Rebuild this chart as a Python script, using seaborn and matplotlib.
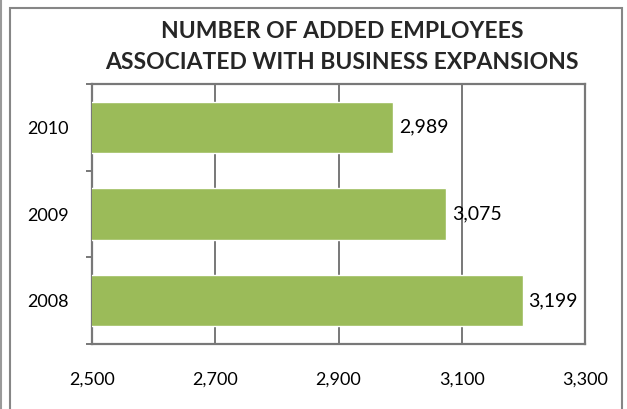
import matplotlib
matplotlib.use("Agg")
import matplotlib.pyplot as plt
import matplotlib.ticker as mticker
from matplotlib.lines import Line2D
from matplotlib.patches import Rectangle
import seaborn as sns
import pandas as pd

# data
years = ["2010", "2009", "2008"]
employees = [2989, 3075, 3199]
x_ticks = [2500, 2700, 2900, 3100, 3300]
title = "NUMBER OF ADDED EMPLOYEES\nASSOCIATED WITH BUSINESS EXPANSIONS"

df = pd.DataFrame({"year": years, "employees": employees})

sns.set_theme(style="white")
plt.rcParams["font.family"] = ["Lato", "DejaVu Sans"]

fig = plt.figure(figsize=(6.27, 4.09), dpi=100)
ax = fig.add_axes([92 / 627, 65 / 409, 493 / 627, 260 / 409])

sns.barplot(data=df, x="employees", y="year", order=years, orient="h",
            color="#9BBB59", saturation=1, width=0.59, ax=ax, zorder=3)

ax.set_xlim(2500, 3300)
ax.set_ylim(2.5, -0.5)
ax.set_xticks(x_ticks)
ax.xaxis.set_major_formatter(mticker.FuncFormatter(lambda v, p: f"{int(v):,}"))
ax.grid(axis="x", color="#787878", linewidth=1.4, zorder=0)
ax.set_axisbelow(True)
ax.set_xlabel("")
ax.set_ylabel("")

for s in ax.spines.values():
    s.set_color("#787878")
    s.set_linewidth(1.6)

ax.tick_params(axis="x", length=0, pad=20, labelsize=13, colors="black")
ax.tick_params(axis="y", which="major", length=0, pad=16.5, labelsize=13, colors="black")
ax.set_yticks([-0.5, 0.5, 1.5, 2.5], minor=True)
ax.tick_params(axis="y", which="minor", length=4.5, width=1.4, color="#787878", left=True)

for i, v in enumerate(employees):
    ax.annotate(f"{v:,}", xy=(v, i), xytext=(4, 0), textcoords="offset points",
                va="center", ha="left", fontsize=14, color="black", zorder=4)

fig.text(342 / 627, 1 - 47 / 409, title, ha="center", va="center",
         fontsize=16.5, fontweight="bold", linespacing=1.55)

# chart border like the spreadsheet frame
fig.patches.append(Rectangle((10 / 627, -0.1), 612 / 627, 1.1 - 8 / 409,
                             transform=fig.transFigure, fill=False,
                             edgecolor="#868686", linewidth=1.5))
fig.lines.append(Line2D([1 / 627, 1 / 627], [0, 1], transform=fig.transFigure,
                        color="#9a9a9a", linewidth=1.5))

fig.savefig("out.png", dpi=100)
